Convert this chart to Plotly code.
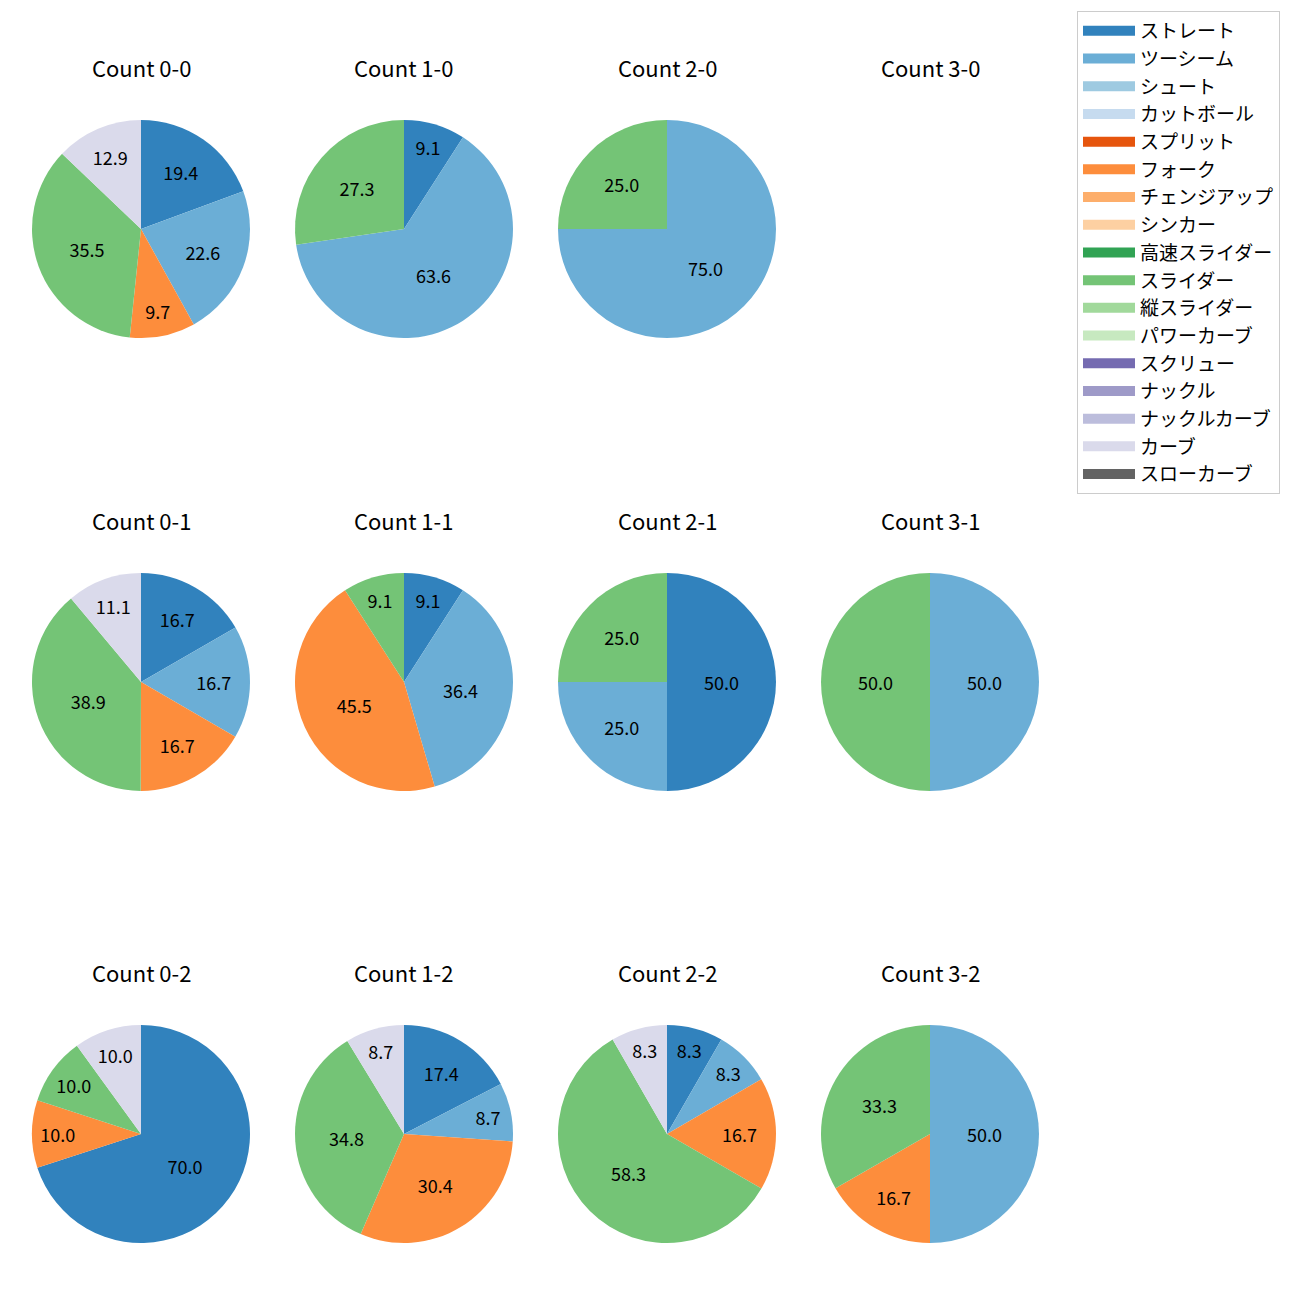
import plotly.graph_objects as go

# ---------------- data ----------------
pitch_types = ["ストレート", "ツーシーム", "シュート", "カットボール", "スプリット", "フォーク",
               "チェンジアップ", "シンカー", "高速スライダー", "スライダー", "縦スライダー",
               "パワーカーブ", "スクリュー", "ナックル", "ナックルカーブ", "カーブ", "スローカーブ"]
colors = ["#3182bd", "#6baed6", "#9ecae1", "#c6dbef", "#e6550d", "#fd8d3c", "#fdae6b", "#fdd0a2",
          "#31a354", "#74c476", "#a1d99b", "#c7e9c0", "#756bb1", "#9e9ac8", "#bcbddc", "#dadaeb",
          "#636363"]

counts = ["0-0", "1-0", "2-0", "3-0",
          "0-1", "1-1", "2-1", "3-1",
          "0-2", "1-2", "2-2", "3-2"]

# percentages per count (pitch type -> %)
pct_0_0 = {"ストレート": 19.4, "ツーシーム": 22.6, "フォーク": 9.7, "スライダー": 35.5, "カーブ": 12.9}
pct_1_0 = {"ストレート": 9.1, "ツーシーム": 63.6, "スライダー": 27.3}
pct_2_0 = {"ツーシーム": 75.0, "スライダー": 25.0}
pct_3_0 = {}
pct_0_1 = {"ストレート": 16.7, "ツーシーム": 16.7, "フォーク": 16.7, "スライダー": 38.9, "カーブ": 11.1}
pct_1_1 = {"ストレート": 9.1, "ツーシーム": 36.4, "フォーク": 45.5, "スライダー": 9.1}
pct_2_1 = {"ストレート": 50.0, "ツーシーム": 25.0, "スライダー": 25.0}
pct_3_1 = {"ツーシーム": 50.0, "スライダー": 50.0}
pct_0_2 = {"ストレート": 70.0, "フォーク": 10.0, "スライダー": 10.0, "カーブ": 10.0}
pct_1_2 = {"ストレート": 17.4, "ツーシーム": 8.7, "フォーク": 30.4, "スライダー": 34.8, "カーブ": 8.7}
pct_2_2 = {"ストレート": 8.3, "ツーシーム": 8.3, "フォーク": 16.7, "スライダー": 58.3, "カーブ": 8.3}
pct_3_2 = {"ツーシーム": 50.0, "フォーク": 16.7, "スライダー": 33.3}

all_pct = [pct_0_0, pct_1_0, pct_2_0, pct_3_0,
           pct_0_1, pct_1_1, pct_2_1, pct_3_1,
           pct_0_2, pct_1_2, pct_2_2, pct_3_2]

# ---------------- layout ----------------
W = H = 1300
col_cx = [141, 404, 667, 930]
row_cy = [229, 682, 1134]
R = 109
title_dy = 162
FONT = "Noto Sans CJK JP"
color_map = dict(zip(pitch_types, colors))

fig = go.Figure()
annotations = []
for i, (cnt, pct) in enumerate(zip(counts, all_pct)):
    r, c = divmod(i, 4)
    cx, cy = col_cx[c], row_cy[r]
    annotations.append(dict(text=f"Count {cnt}", x=cx / W, y=1 - (cy - title_dy) / H,
                            xref="paper", yref="paper", showarrow=False,
                            font=dict(size=22, color="black", family=FONT),
                            xanchor="center", yanchor="middle"))
    if not pct:
        continue
    labels = list(pct.keys())
    vals = list(pct.values())
    fig.add_trace(go.Pie(
        labels=labels, values=vals, sort=False, direction="clockwise", rotation=0,
        marker=dict(colors=[color_map[l] for l in labels], line=dict(width=0)),
        texttemplate="%{value:.1f}", textposition="inside",
        insidetextorientation="horizontal",
        textfont=dict(size=18, color="black", family=FONT),
        hoverinfo="skip", showlegend=False,
        domain=dict(x=[(cx - R) / W, (cx + R) / W], y=[1 - (cy + R) / H, 1 - (cy - R) / H]),
    ))

# legend entries
for name, col in zip(pitch_types, colors):
    fig.add_trace(go.Scatter(x=[None], y=[None], mode="lines", name=name,
                             line=dict(color=col, width=13), legendgroup=name,
                             showlegend=True))

fig.update_layout(
    width=W, height=H, paper_bgcolor="white", plot_bgcolor="white",
    margin=dict(l=0, r=0, t=0, b=0),
    xaxis=dict(visible=False), yaxis=dict(visible=False),
    annotations=annotations,
    uniformtext=dict(minsize=18, mode="show"),
    legend=dict(x=1077 / W, y=1 - 11 / H, xanchor="left", yanchor="top",
                bgcolor="white", bordercolor="#cccccc", borderwidth=1,
                font=dict(size=19, family=FONT, color="black"),
                tracegroupgap=0, itemwidth=52),
)

fig.write_html("out.html", config={"displayModeBar": False},
               post_script="document.body.style.margin='0px';")
